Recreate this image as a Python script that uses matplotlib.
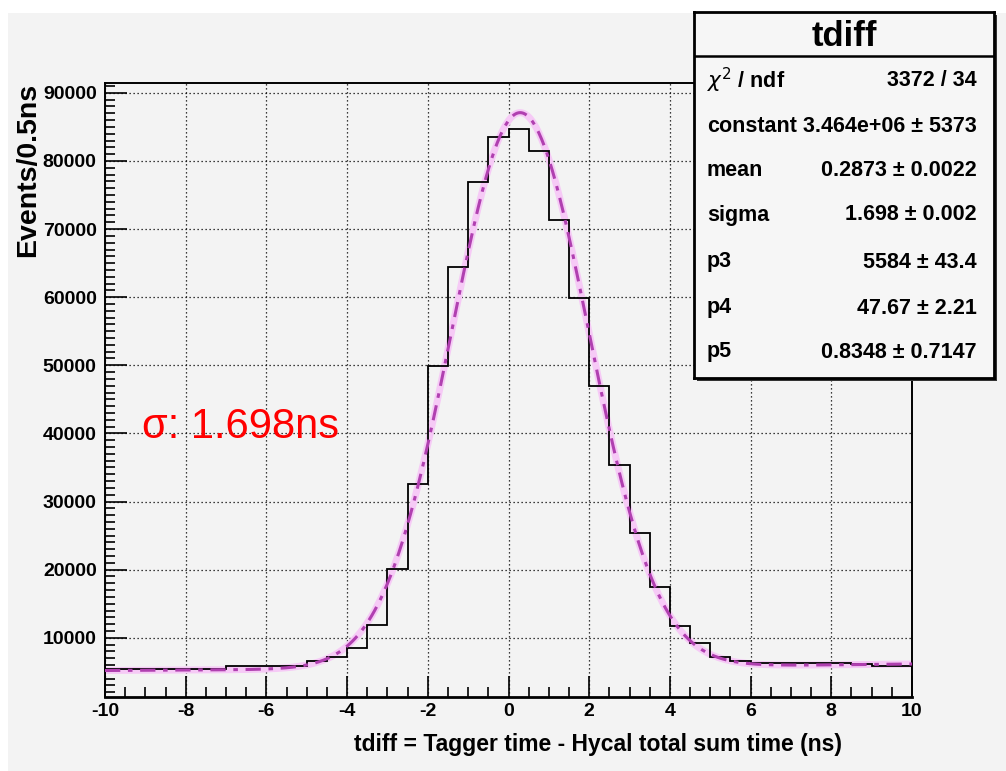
import numpy as np
import matplotlib
matplotlib.use("Agg")
import matplotlib.pyplot as plt
from matplotlib.patches import Rectangle
from matplotlib.ticker import MultipleLocator

plt.rcParams['font.family'] = ['Liberation Sans', 'DejaVu Sans']
plt.rcParams['axes.unicode_minus'] = False

# tdiff histogram, 0.5 ns bins from -10 to 10
bin_edges = np.arange(-10.0, 10.01, 0.5)
counts = [5400, 5400, 5400, 5400, 5450, 5450, 5800, 5800, 5900, 5900,
          6600, 7100, 8500, 11800, 20100, 32550, 49970, 64500, 76850, 83500,
          84700, 81400, 71400, 59900, 46900, 35400, 25400, 17500, 11750, 9200,
          7240, 6600, 6360, 6330, 6300, 6300, 6300, 6100, 5850, 5850]

# fit: gaus + pol2
fit_mean = 0.2873
fit_sigma = 1.698
fit_height = 81500
p3, p4, p5 = 5584, 47.67, 0.8348

stat_names = [r'$\chi^{2}$ / ndf', 'constant', 'mean', 'sigma', 'p3', 'p4', 'p5']
stat_values = ['3372 / 34', u'3.464e+06 \u00b1 5373', u'0.2873 \u00b1 0.0022',
               u'1.698 \u00b1 0.002', u'5584 \u00b1 43.4', u'47.67 \u00b1 2.21',
               u'0.8348 \u00b1 0.7147']

W, H = 1006, 771
bg = '#f3f3f3'
fig = plt.figure(figsize=(W / 100, H / 100), dpi=100, facecolor='white')
fig.patches.append(Rectangle((8 / W, 0), 1, 1 - 13 / H, transform=fig.transFigure,
                             facecolor=bg, edgecolor='none', zorder=-10))

ax = fig.add_axes([105 / W, 1 - 697 / H, (912 - 105) / W, (697 - 83) / H])
ax.set_facecolor(bg)

ax.stairs(counts, bin_edges, color='black', lw=1.3, zorder=3)

xf = np.linspace(-10, 10, 600)
yf = fit_height * np.exp(-0.5 * ((xf - fit_mean) / fit_sigma) ** 2) + p3 + p4 * xf + p5 * xf ** 2
ax.plot(xf, yf, color='#f6caf6', lw=5, solid_capstyle='round', zorder=2)
ax.plot(xf, yf, color='#b040b0', lw=2.2, ls=(0, (5, 2.5, 1.5, 2.5)), zorder=4)

ax.set_xlim(-10, 10)
ax.set_ylim(1300, 91450)
ax.xaxis.set_major_locator(MultipleLocator(2))
ax.xaxis.set_minor_locator(MultipleLocator(0.5))
ax.yaxis.set_major_locator(MultipleLocator(10000))
ax.yaxis.set_minor_locator(MultipleLocator(1000))
ax.grid(True, which='major', color='black', lw=0.9, ls=(0, (1, 2.2)), zorder=1)
ax.tick_params(which='both', direction='in', top=False, right=False, width=1.2)
ax.tick_params(which='major', length=15, labelsize=14)
ax.tick_params(which='minor', length=7)
ax.tick_params(axis='y', which='major', length=16, pad=6)
ax.tick_params(axis='x', which='major', pad=4)
for lbl in ax.get_xticklabels() + ax.get_yticklabels():
    lbl.set_fontweight('bold')
for sp in ax.spines.values():
    sp.set_linewidth(1.4)
ax.spines['bottom'].set_linewidth(2)

fig.text(28 / W, 1 - 83 / H, 'Events/0.5ns', rotation=90, ha='center', va='top',
         fontsize=20.5, fontweight='bold')
fig.text(598 / W, 1 - 745 / H, 'tdiff = Tagger time - Hycal total sum time (ns)',
         ha='center', va='center', fontsize=16.5, fontweight='bold')

ax.text(0.046, 0.422, u'\u03c3: 1.698ns', transform=ax.transAxes, color='red',
        fontsize=30, ha='left', va='baseline', zorder=6)

# stats box
bl, bt, br, bb = 694, 12, 994, 378
# shadow
fig.patches.append(Rectangle(((bl + 3) / W, 1 - (bb + 3) / H), (br - bl) / W, (bb - bt) / H,
                             transform=fig.transFigure, facecolor='#333333',
                             edgecolor='none', zorder=8))
box = fig.add_axes([bl / W, 1 - bb / H, (br - bl) / W, (bb - bt) / H])
box.set_facecolor('#f6f6f6')
box.set_xticks([])
box.set_yticks([])
for sp in box.spines.values():
    sp.set_linewidth(2)
box.set_zorder(10)
bh = bb - bt
sep = 1 - (56 - bt) / bh
box.axhline(sep, color='black', lw=1.8)
box.text(0.5, 1 - (36 - bt) / bh, 'tdiff', ha='center', va='center',
         fontsize=25, fontweight='bold', transform=box.transAxes)
row_y = [80, 126, 170, 215, 262, 308, 352]
for yy, name, val in zip(row_y, stat_names, stat_values):
    fy = 1 - (yy - bt) / bh
    box.text((707 - bl) / (br - bl), fy, name, ha='left', va='center',
             fontsize=15.5, fontweight='bold', transform=box.transAxes)
    box.text((977 - bl) / (br - bl), fy, val, ha='right', va='center',
             fontsize=15.5, fontweight='bold', transform=box.transAxes)

fig.savefig('out.png', dpi=100, facecolor=fig.get_facecolor())
